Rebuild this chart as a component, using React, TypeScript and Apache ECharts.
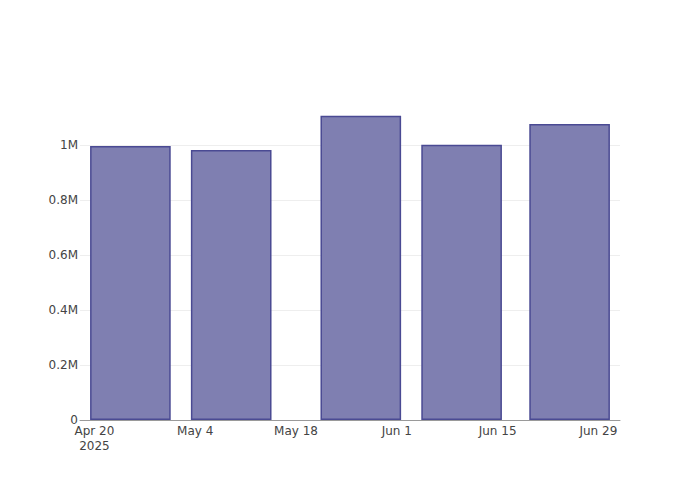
import React, { useEffect, useRef } from "react";
import * as echarts from "echarts";

const baseDate = "2025-04-20";
const tickDates = ["2025-04-20", "2025-05-04", "2025-05-18", "2025-06-01", "2025-06-15", "2025-06-29"];
const barDates = ["2025-04-25", "2025-05-09", "2025-05-27", "2025-06-10", "2025-06-25"];
const barValues = [996000, 982000, 1106000, 1001000, 1076000];
const yTicks = [0, 200000, 400000, 600000, 800000, 1000000];
const monthNames = ["Jan", "Feb", "Mar", "Apr", "May", "Jun", "Jul", "Aug", "Sep", "Oct", "Nov", "Dec"];

const DAY = 86400000;
const toMs = (s: string) => {
  const [y, m, d] = s.split("-").map(Number);
  return Date.UTC(y, m - 1, d);
};
const baseMs = toMs(baseDate);
const toDay = (s: string) => (toMs(s) - baseMs) / DAY;

const fmtY = (v: number) => {
  if (v === 0) return "0";
  const m = v / 1000000;
  return `${Math.round(m * 10) / 10}M`;
};

const fmtX = (v: number) => {
  const d = new Date(baseMs + Math.round(v) * DAY);
  const label = `${monthNames[d.getUTCMonth()]} ${d.getUTCDate()}`;
  if (Math.round(v) === 0) return `${label}\n${d.getUTCFullYear()}`;
  return label;
};

export default function App() {
  const ref = useRef<HTMLDivElement>(null);
  useEffect(() => {
    if (!ref.current) return;
    const chart = echarts.init(ref.current, undefined, { renderer: "svg" });
    const font = "DejaVu Sans";
    chart.setOption({
      animation: false,
      backgroundColor: "#fff",
      grid: { left: 80, right: 80, top: 100, bottom: 80 },
      xAxis: {
        type: "value",
        min: -2,
        max: 73,
        axisLine: { show: true, lineStyle: { color: "#9a9a9a", width: 1 } },
        axisTick: { show: false },
        splitLine: { show: false },
        axisLabel: {
          customValues: tickDates.map(toDay),
          formatter: fmtX,
          color: "#444",
          fontFamily: font,
          fontSize: 12,
          lineHeight: 15,
          margin: 3,
        },
      },
      yAxis: {
        type: "value",
        min: 0,
        max: 1163600,
        interval: 200000,
        axisLine: { show: false },
        axisTick: { show: false },
        splitLine: {
          show: true,
          lineStyle: {
            color: ["#eeeeee", "#eeeeee", "#eeeeee", "#eeeeee", "#eeeeee", "#eeeeee", "rgba(0,0,0,0)"],
            width: 1,
          },
        },
        axisLabel: {
          showMaxLabel: false,
          formatter: (v: number) => (yTicks.includes(v) ? fmtY(v) : ""),
          color: "#444",
          fontFamily: font,
          fontSize: 12,
          margin: 2,
        },
      },
      series: [
        {
          type: "bar",
          data: barDates.map((d, i) => [toDay(d), barValues[i]]),
          barWidth: "80%",
          itemStyle: {
            color: "#7f7fb1",
            borderColor: "#4a4a93",
            borderWidth: 1.5,
          },
        },
      ],
    });
    return () => chart.dispose();
  }, []);
  return (
    <div
      ref={ref}
      style={{ position: "fixed", left: 0, top: 0, width: 700, height: 500 }}
    />
  );
}
